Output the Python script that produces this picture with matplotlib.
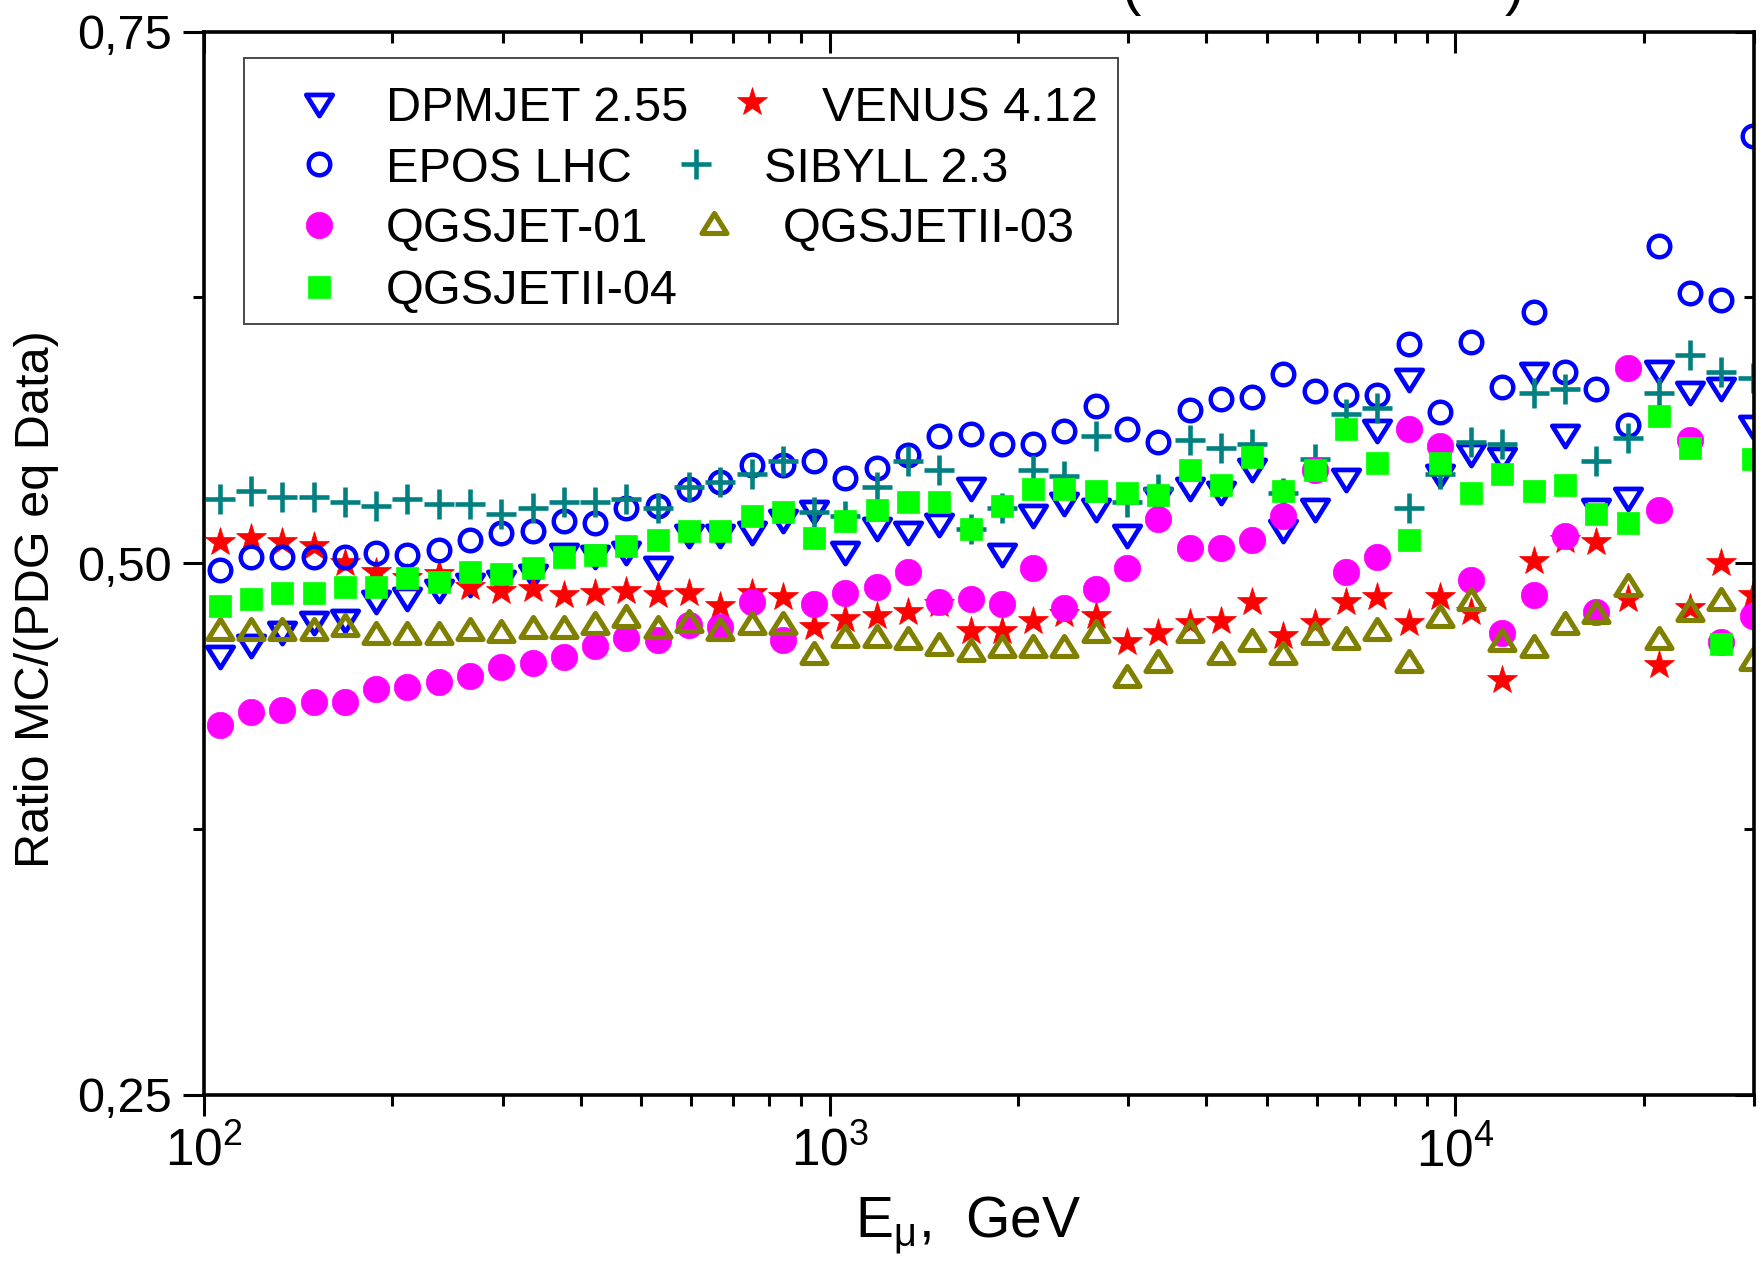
import numpy as np
import matplotlib
matplotlib.use("Agg")
import matplotlib.pyplot as plt
from matplotlib.path import Path
from matplotlib.markers import MarkerStyle
from matplotlib.lines import Line2D
from matplotlib.patches import Rectangle
from matplotlib.ticker import FixedLocator, NullFormatter, FuncFormatter, LogLocator

# ---------------------------------------------------------------- data
# muon energy bin centres (log10 E / GeV), 0.05 decade bins
log_e_centers = np.arange(2.025, 4.5, 0.05)
energy_gev = 10 ** log_e_centers

dpmjet_255 = [0.456, 0.461, 0.467, 0.472, 0.473, 0.482, 0.483, 0.487, 0.490,
              0.491, 0.494, 0.504, 0.503, 0.505, 0.498, 0.513, 0.513, 0.514,
              0.520, 0.524, 0.505, 0.516, 0.514, 0.518, 0.535, 0.504, 0.522,
              0.528, 0.525, 0.513, 0.530, 0.535, 0.533, 0.544, 0.515, 0.525,
              0.539, 0.562, 0.586, 0.541, 0.551, 0.549, 0.589, 0.560, 0.525,
              0.530, 0.590, 0.580, 0.582, 0.564]
venus_412 = [0.510, 0.512, 0.510, 0.508, 0.500, 0.496, 0.493, 0.495, 0.489,
             0.487, 0.488, 0.485, 0.486, 0.487, 0.485, 0.486, 0.480, 0.486,
             0.484, 0.470, 0.474, 0.475, 0.477, 0.481, 0.468, 0.468, 0.473,
             0.476, 0.475, 0.463, 0.467, 0.472, 0.473, 0.482, 0.466, 0.472,
             0.482, 0.484, 0.472, 0.484, 0.477, 0.445, 0.501, 0.511, 0.510,
             0.483, 0.452, 0.479, 0.500, 0.485]
epos_lhc = [0.497, 0.503, 0.503, 0.503, 0.503, 0.505, 0.504, 0.506, 0.511,
            0.514, 0.515, 0.520, 0.519, 0.526, 0.527, 0.535, 0.538, 0.546,
            0.546, 0.548, 0.540, 0.545, 0.551, 0.560, 0.561, 0.556, 0.556,
            0.562, 0.574, 0.563, 0.557, 0.572, 0.577, 0.578, 0.589, 0.581,
            0.579, 0.579, 0.603, 0.571, 0.604, 0.583, 0.618, 0.590, 0.582,
            0.565, 0.649, 0.627, 0.624, 0.701]
sibyll_23 = [0.530, 0.534, 0.531, 0.531, 0.529, 0.527, 0.530, 0.528, 0.528,
             0.523, 0.526, 0.529, 0.529, 0.530, 0.526, 0.536, 0.538, 0.542,
             0.548, 0.524, 0.522, 0.536, 0.548, 0.544, 0.516, 0.526, 0.544,
             0.541, 0.560, 0.529, 0.535, 0.558, 0.554, 0.556, 0.533, 0.549,
             0.570, 0.573, 0.526, 0.542, 0.557, 0.556, 0.580, 0.582, 0.548,
             0.559, 0.580, 0.598, 0.590, 0.587]
qgsjet_01 = [0.424, 0.430, 0.431, 0.435, 0.435, 0.441, 0.442, 0.444, 0.447,
             0.451, 0.453, 0.456, 0.461, 0.465, 0.464, 0.471, 0.470, 0.482,
             0.464, 0.481, 0.486, 0.489, 0.496, 0.482, 0.483, 0.481, 0.498,
             0.479, 0.488, 0.498, 0.521, 0.507, 0.507, 0.511, 0.522, 0.544,
             0.496, 0.503, 0.563, 0.555, 0.492, 0.467, 0.485, 0.513, 0.477,
             0.592, 0.525, 0.558, 0.463, 0.475]
qgsjetii_03 = [0.469, 0.469, 0.469, 0.469, 0.471, 0.467, 0.467, 0.467, 0.469,
               0.468, 0.470, 0.470, 0.472, 0.475, 0.470, 0.473, 0.469, 0.472,
               0.472, 0.458, 0.466, 0.466, 0.465, 0.462, 0.459, 0.461, 0.461,
               0.461, 0.468, 0.447, 0.454, 0.468, 0.458, 0.464, 0.458, 0.467,
               0.465, 0.469, 0.454, 0.475, 0.483, 0.464, 0.461, 0.472, 0.477,
               0.490, 0.465, 0.478, 0.483, 0.455]
qgsjetii_04 = [0.480, 0.483, 0.486, 0.486, 0.489, 0.489, 0.493, 0.491, 0.496,
               0.495, 0.498, 0.503, 0.504, 0.508, 0.511, 0.515, 0.515, 0.522,
               0.524, 0.512, 0.520, 0.525, 0.529, 0.529, 0.516, 0.527, 0.535,
               0.535, 0.534, 0.533, 0.532, 0.544, 0.537, 0.550, 0.534, 0.544,
               0.563, 0.547, 0.511, 0.547, 0.533, 0.542, 0.534, 0.537, 0.523,
               0.519, 0.569, 0.554, 0.462, 0.549]

y_ticks = [0.25, 0.50, 0.75]
y_tick_labels = ["0,25", "0,50", "0,75"]
y_minor_ticks = [0.375, 0.625]

# ---------------------------------------------------------------- style
plt.rcParams["font.family"] = ["Liberation Sans", "DejaVu Sans"]
plt.rcParams["mathtext.fontset"] = "custom"
plt.rcParams["mathtext.rm"] = "Liberation Sans"
plt.rcParams["mathtext.it"] = "Liberation Sans:italic"

W, H = 1765, 1266
fig = plt.figure(figsize=(W / 100, H / 100), dpi=100)


def fx(px):
    return px / W


def fy(py):
    return 1 - py / H


ax = fig.add_axes([fx(204), fy(1095), fx(1754) - fx(204), fy(31.5) - fy(1095)])

tri_down = MarkerStyle(Path([(0, -0.8), (-1, 0.8), (1, 0.8), (0, -0.8)],
                            [Path.MOVETO, Path.LINETO, Path.LINETO, Path.CLOSEPOLY]),
                       joinstyle="miter")
tri_up = MarkerStyle(Path([(0, 0.8), (-1, -0.8), (1, -0.8), (0, 0.8)],
                          [Path.MOVETO, Path.LINETO, Path.LINETO, Path.CLOSEPOLY]),
                     joinstyle="miter")

styles = {
    "DPMJET 2.55": dict(marker=tri_down, ms=19, mfc="none", mec="#0000FF", mew=3.4),
    "VENUS 4.12": dict(marker="*", ms=22, mfc="#FF0000", mec="#FF0000", mew=0.5),
    "EPOS LHC": dict(marker="o", ms=15.5, mfc="none", mec="#0000FF", mew=3.2),
    "SIBYLL 2.3": dict(marker="+", ms=22, mec="#008080", mew=3.3),
    "QGSJET-01": dict(marker="o", ms=19, mfc="#FF00FF", mec="#FF00FF", mew=0.5),
    "QGSJETII-03": dict(marker=tri_up, ms=18, mfc="none", mec="#808000", mew=3.7),
    "QGSJETII-04": dict(marker="s", ms=16, mfc="#00FF00", mec="#00FF00", mew=0.5),
}
series = [
    ("DPMJET 2.55", dpmjet_255),
    ("VENUS 4.12", venus_412),
    ("EPOS LHC", epos_lhc),
    ("SIBYLL 2.3", sibyll_23),
    ("QGSJET-01", qgsjet_01),
    ("QGSJETII-03", qgsjetii_03),
    ("QGSJETII-04", qgsjetii_04),
]
for name, values in series:
    ax.plot(energy_gev, values, ls="none", **styles[name])

# ---------------------------------------------------------------- axes
ax.set_xscale("log")
ax.set_xlim(100, 3e4)
ax.set_ylim(0.25, 0.75)

ax.yaxis.set_major_locator(FixedLocator(y_ticks))
ax.set_yticklabels(y_tick_labels)
ax.yaxis.set_minor_locator(FixedLocator(y_minor_ticks))

ax.xaxis.set_major_locator(LogLocator(base=10))
ax.xaxis.set_minor_locator(LogLocator(base=10, subs=np.arange(2, 10)))
ax.xaxis.set_major_formatter(FuncFormatter(
    lambda v, p: r"$\mathregular{10^{%d}}$" % round(np.log10(v))))
ax.xaxis.set_minor_formatter(NullFormatter())

ax.tick_params(which="major", direction="out", length=15, width=2.2, labelsize=35)
ax.tick_params(which="minor", direction="out", length=8, width=2.2)
ax.tick_params(axis="y", which="major", pad=8)
ax.tick_params(axis="x", which="major", pad=8, labelsize=37)
for s in ax.spines.values():
    s.set_linewidth(2.6)

# mirrored ticks pointing inward on the top and right sides
axt = ax.twiny()
axt.set_xscale("log")
axt.set_xlim(ax.get_xlim())
axt.xaxis.set_major_locator(LogLocator(base=10))
axt.xaxis.set_minor_locator(LogLocator(base=10, subs=np.arange(2, 10)))
axt.tick_params(which="major", direction="in", length=15, width=2.2, labeltop=False)
axt.tick_params(which="minor", direction="in", length=8, width=2.2, labeltop=False)
axr = ax.twinx()
axr.set_ylim(ax.get_ylim())
axr.yaxis.set_major_locator(FixedLocator(y_ticks))
axr.yaxis.set_minor_locator(FixedLocator(y_minor_ticks))
axr.tick_params(which="major", direction="in", length=14, width=2.2, labelright=False)
axr.tick_params(which="minor", direction="in", length=7.5, width=2.2, labelright=False)
for a in (axt, axr):
    for s in a.spines.values():
        s.set_visible(False)

# ---------------------------------------------------------------- labels
fig.text(fx(37), fy(599), "Ratio MC/(PDG eq Data)", rotation=90,
         ha="center", va="center", fontsize=35)
fig.text(fx(968), fy(1238), r"E$_{\mathrm{\mu}}$,  GeV",
         ha="center", va="baseline", fontsize=41)
fig.text(fx(1131), fy(4), "(", ha="center", va="baseline", fontsize=42)
fig.text(fx(1514), fy(4), ")", ha="center", va="baseline", fontsize=42)

# ---------------------------------------------------------------- key
fig.add_artist(Rectangle((fx(244), fy(324)), fx(1118) - fx(244), fy(58) - fy(324),
                         transform=fig.transFigure, facecolor="white",
                         edgecolor="#3a3a3a", linewidth=1.3))
key_entries = [
    ("DPMJET 2.55", 318.6, 104.7, 386, 121),
    ("VENUS 4.12", 752, 102.4, 822, 121),
    ("EPOS LHC", 318.6, 164.4, 386, 181.5),
    ("SIBYLL 2.3", 695.7, 164.4, 764, 181.5),
    ("QGSJET-01", 318.6, 225, 386, 242),
    ("QGSJETII-03", 713.7, 223, 783, 242),
    ("QGSJETII-04", 318.6, 287, 386, 304),
]
for name, mx, my, tx, ty in key_entries:
    fig.add_artist(Line2D([fx(mx)], [fy(my)], transform=fig.transFigure,
                          ls="none", **styles[name]))
    fig.text(fx(tx), fy(ty), name, ha="left", va="baseline", fontsize=35)

fig.savefig("out.png", dpi=100)
